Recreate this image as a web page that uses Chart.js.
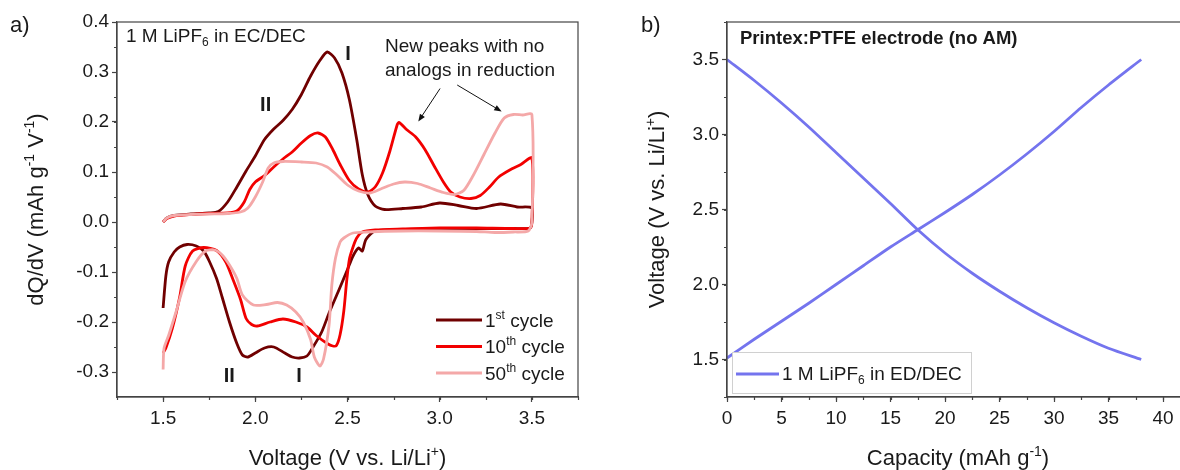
<!DOCTYPE html>
<html>
<head>
<meta charset="utf-8">
<script src="https://cdn.jsdelivr.net/npm/chart.js@4.4.1/dist/chart.umd.min.js"></script>
<style>
  html, body { margin: 0; padding: 0; background: #fff; width: 1180px; height: 470px; overflow: hidden; }
  #ca { position: absolute; left: 0; top: 0; }
  #cb { position: absolute; left: 600px; top: 0; }
</style>
</head>
<body>
<canvas id="ca" width="600" height="470"></canvas>
<canvas id="cb" width="640" height="470"></canvas>
<script>
const FONT = '"Liberation Sans", Arial, sans-serif';

// ---- panel a: dQ/dV, oxidation sweep (1.5 -> 3.5 V) then reduction sweep (3.5 -> 1.5 V)
const c1OxV  = [1.50, 1.52, 1.56, 1.65, 1.75, 1.80, 1.85, 1.90, 1.95, 2.00, 2.05, 2.10, 2.15, 2.20, 2.25, 2.30, 2.35, 2.39, 2.43, 2.47, 2.51, 2.55, 2.58, 2.61, 2.65, 2.70, 2.80, 2.90, 3.00, 3.10, 3.20, 3.33, 3.42, 3.50, 3.50];
const c1OxQ  = [0.000, 0.008, 0.013, 0.016, 0.018, 0.021, 0.040, 0.070, 0.102, 0.132, 0.165, 0.186, 0.203, 0.225, 0.255, 0.292, 0.323, 0.340, 0.328, 0.298, 0.245, 0.165, 0.095, 0.055, 0.032, 0.025, 0.027, 0.030, 0.038, 0.033, 0.027, 0.036, 0.030, 0.028, 0.000];
const c1RedV = [3.49, 3.40, 3.20, 3.00, 2.80, 2.65, 2.60, 2.58, 2.56, 2.53, 2.50, 2.45, 2.40, 2.36, 2.31, 2.28, 2.24, 2.20, 2.16, 2.10, 2.05, 2.00, 1.96, 1.93, 1.90, 1.86, 1.82, 1.79, 1.75, 1.72, 1.68, 1.63, 1.59, 1.56, 1.53, 1.515, 1.50];
const c1RedQ = [-0.012, -0.013, -0.013, -0.014, -0.015, -0.018, -0.035, -0.058, -0.052, -0.068, -0.095, -0.139, -0.182, -0.220, -0.252, -0.268, -0.272, -0.270, -0.262, -0.250, -0.252, -0.262, -0.270, -0.266, -0.243, -0.200, -0.150, -0.113, -0.078, -0.058, -0.048, -0.045, -0.050, -0.060, -0.080, -0.108, -0.172];

const c10OxV  = [1.50, 1.52, 1.56, 1.65, 1.75, 1.85, 1.90, 1.94, 1.97, 2.00, 2.05, 2.10, 2.15, 2.20, 2.25, 2.30, 2.34, 2.38, 2.42, 2.46, 2.51, 2.56, 2.61, 2.65, 2.69, 2.73, 2.77, 2.78, 2.82, 2.87, 2.92, 2.97, 3.02, 3.06, 3.11, 3.17, 3.22, 3.27, 3.32, 3.38, 3.44, 3.50, 3.50];
const c10OxQ  = [0.000, 0.007, 0.012, 0.015, 0.017, 0.018, 0.022, 0.040, 0.065, 0.080, 0.093, 0.110, 0.126, 0.140, 0.158, 0.173, 0.178, 0.170, 0.145, 0.115, 0.083, 0.066, 0.060, 0.070, 0.098, 0.142, 0.195, 0.199, 0.185, 0.170, 0.145, 0.112, 0.080, 0.060, 0.050, 0.047, 0.053, 0.070, 0.090, 0.104, 0.115, 0.128, 0.000];
const c10RedV = [3.49, 3.40, 3.20, 3.00, 2.80, 2.65, 2.58, 2.55, 2.53, 2.51, 2.495, 2.48, 2.46, 2.44, 2.42, 2.39, 2.33, 2.28, 2.22, 2.15, 2.08, 2.01, 1.98, 1.95, 1.92, 1.88, 1.84, 1.79, 1.72, 1.66, 1.62, 1.59, 1.55, 1.515, 1.50];
const c10RedQ = [-0.012, -0.013, -0.012, -0.012, -0.014, -0.016, -0.020, -0.032, -0.050, -0.075, -0.120, -0.178, -0.225, -0.247, -0.248, -0.243, -0.227, -0.210, -0.200, -0.194, -0.200, -0.208, -0.205, -0.193, -0.155, -0.116, -0.080, -0.057, -0.051, -0.058, -0.088, -0.150, -0.213, -0.252, -0.262];

const c50OxV  = [1.50, 1.52, 1.56, 1.65, 1.75, 1.85, 1.92, 1.96, 2.00, 2.04, 2.07, 2.10, 2.15, 2.25, 2.33, 2.39, 2.44, 2.50, 2.56, 2.62, 2.68, 2.75, 2.81, 2.88, 2.95, 3.02, 3.08, 3.13, 3.18, 3.24, 3.30, 3.35, 3.40, 3.45, 3.50, 3.50];
const c50OxQ  = [0.000, 0.008, 0.013, 0.015, 0.016, 0.017, 0.020, 0.028, 0.050, 0.080, 0.108, 0.118, 0.121, 0.120, 0.118, 0.110, 0.095, 0.074, 0.062, 0.058, 0.066, 0.076, 0.080, 0.077, 0.068, 0.059, 0.055, 0.063, 0.092, 0.135, 0.178, 0.208, 0.215, 0.214, 0.215, 0.000];
const c50RedV = [3.48, 3.40, 3.30, 3.20, 3.00, 2.80, 2.60, 2.53, 2.48, 2.46, 2.435, 2.415, 2.40, 2.37, 2.35, 2.32, 2.30, 2.26, 2.22, 2.17, 2.12, 2.06, 1.99, 1.93, 1.90, 1.86, 1.82, 1.78, 1.73, 1.68, 1.62, 1.57, 1.53, 1.505, 1.50];
const c50RedQ = [-0.018, -0.020, -0.021, -0.019, -0.018, -0.018, -0.020, -0.022, -0.032, -0.040, -0.072, -0.126, -0.206, -0.274, -0.288, -0.270, -0.235, -0.200, -0.180, -0.166, -0.161, -0.165, -0.166, -0.146, -0.113, -0.086, -0.066, -0.056, -0.058, -0.079, -0.119, -0.180, -0.227, -0.253, -0.295];

// ---- panel b: galvanostatic profile
const capX       = [0, 2.5, 5, 7.5, 10, 12.5, 15, 17.5, 20, 22.5, 25, 27.5, 30, 32.5, 35, 38];
const dischargeV = [3.50, 3.36, 3.21, 3.05, 2.88, 2.71, 2.54, 2.365, 2.21, 2.075, 1.955, 1.845, 1.745, 1.655, 1.575, 1.50];
const chargeV    = [1.51, 1.635, 1.755, 1.875, 2.00, 2.125, 2.25, 2.365, 2.48, 2.60, 2.73, 2.87, 3.02, 3.18, 3.33, 3.50];

const aXTicks = [1.5, 2.0, 2.5, 3.0, 3.5];
const aYTicks = [-0.3, -0.2, -0.1, 0.0, 0.1, 0.2, 0.3, 0.4];
const bXTicks = [0, 5, 10, 15, 20, 25, 30, 35, 40];
const bYTicks = [1.5, 2.0, 2.5, 3.0, 3.5];

const C1 = '#700000', C10 = '#f20000', C50 = '#f4a8a8', BLUE = '#7474ee';
const AXIS = '#444';

function pts(xs, ys) { return xs.map((x, i) => ({x: x, y: ys[i]})); }

function rich(ctx, parts, x, y, o) {
  const size = o.size || 17, weight = o.weight || 'normal';
  const small = Math.round(size * 0.62);
  const segs = parts.map(p => {
    const text = typeof p === 'string' ? p : p[0];
    const kind = typeof p === 'string' ? '' : p[1];
    const s = kind ? small : size;
    ctx.font = weight + ' ' + s + 'px ' + FONT;
    return {text, kind, s, w: ctx.measureText(text).width};
  });
  const total = segs.reduce((a, b) => a + b.w, 0);
  ctx.save();
  ctx.translate(x, y);
  if (o.rot) ctx.rotate(o.rot);
  ctx.fillStyle = o.color || '#1a1a1a';
  ctx.textBaseline = 'alphabetic';
  ctx.textAlign = 'left';
  let cx = o.align === 'center' ? -total / 2 : (o.align === 'right' ? -total : 0);
  segs.forEach(sg => {
    ctx.font = weight + ' ' + sg.s + 'px ' + FONT;
    let dy = size * 0.36;
    if (sg.kind === 'sup') dy -= size * 0.42;
    if (sg.kind === 'sub') dy += size * 0.2;
    ctx.fillText(sg.text, cx, dy);
    cx += sg.w;
  });
  ctx.restore();
}

function arrow(ctx, x1, y1, x2, y2) {
  const a = Math.atan2(y2 - y1, x2 - x1), h = 8;
  ctx.save();
  ctx.strokeStyle = '#111';
  ctx.fillStyle = '#111';
  ctx.lineWidth = 1;
  ctx.beginPath();
  ctx.moveTo(x1, y1);
  ctx.lineTo(x2 - Math.cos(a) * h * 0.7, y2 - Math.sin(a) * h * 0.7);
  ctx.stroke();
  ctx.beginPath();
  ctx.moveTo(x2, y2);
  ctx.lineTo(x2 - h * Math.cos(a - 0.38), y2 - h * Math.sin(a - 0.38));
  ctx.lineTo(x2 - h * Math.cos(a + 0.38), y2 - h * Math.sin(a + 0.38));
  ctx.closePath();
  ctx.fill();
  ctx.restore();
}

// box around the plot + short minor ticks half way between the labelled ones
function frame(chart, xMinorStep, yMinorStep) {
  const {ctx, chartArea: ca, scales: {x, y}} = chart;
  ctx.save();
  ctx.strokeStyle = AXIS;
  ctx.lineWidth = 1.2;
  ctx.strokeRect(ca.left, ca.top, ca.right - ca.left, ca.bottom - ca.top);
  ctx.beginPath();
  for (let v = Math.ceil(x.min / xMinorStep) * xMinorStep; v <= x.max + 1e-9; v += xMinorStep) {
    const px = Math.round(x.getPixelForValue(v)) + 0.5;
    ctx.moveTo(px, ca.bottom);
    ctx.lineTo(px, ca.bottom + 3);
  }
  for (let v = Math.ceil(y.min / yMinorStep) * yMinorStep; v <= y.max + 1e-9; v += yMinorStep) {
    const py = Math.round(y.getPixelForValue(v)) + 0.5;
    ctx.moveTo(ca.left, py);
    ctx.lineTo(ca.left - 3, py);
  }
  ctx.stroke();
  ctx.restore();
}

function axis(pos, min, max, ticks, fmt, size) {
  return {
    type: 'linear', position: pos, min: min, max: max,
    afterBuildTicks: s => { s.ticks = ticks.map(v => ({value: v})); },
    afterFit: s => { if (pos === 'left') s.width = size; else s.height = size; },
    ticks: {
      color: '#1a1a1a', font: {family: FONT, size: 19},
      padding: pos === 'left' ? 3 : 5, autoSkip: false, maxRotation: 0,
      callback: fmt
    },
    grid: {drawOnChartArea: false, drawTicks: true, tickLength: 5, tickColor: AXIS, tickWidth: 1.2},
    border: {display: true, color: AXIS, width: 1.2}
  };
}

const lineDefaults = {
  animation: false, responsive: false,
  elements: {point: {radius: 0, hoverRadius: 0}, line: {borderWidth: 2.8, tension: 0.25, fill: false}},
  plugins: {legend: {display: false}, tooltip: {enabled: false}}
};

// ---------------- panel a ----------------
const decorA = {
  id: 'decorA',
  afterDraw(chart) {
    const {ctx, chartArea: ca, scales: {x, y}} = chart;
    frame(chart, 0.25, 0.05);
    const X = v => x.getPixelForValue(v), Y = v => y.getPixelForValue(v);

    rich(ctx, ['a)'], 10, 24, {size: 22});
    rich(ctx, ['dQ/dV (mAh g', ['-1', 'sup'], ' V', ['-1', 'sup'], ')'], 35, (ca.top + ca.bottom) / 2, {size: 22, rot: -Math.PI / 2, align: 'center'});
    rich(ctx, ['Voltage (V vs. Li/Li', ['+', 'sup'], ')'], (ca.left + ca.right) / 2, 457, {size: 22, align: 'center'});

    rich(ctx, ['1 M LiPF', ['6', 'sub'], ' in EC/DEC'], ca.left + 9, ca.top + 13.5, {size: 19});

    // peak labels
    rich(ctx, ['I'], X(2.503), Y(0.338), {size: 20, weight: 'bold', align: 'center'});
    rich(ctx, ['II'], X(2.056), Y(0.237), {size: 20, weight: 'bold', align: 'center'});
    rich(ctx, ['II'], X(1.859), Y(-0.306), {size: 20, weight: 'bold', align: 'center'});
    rich(ctx, ['I'], X(2.237), Y(-0.306), {size: 20, weight: 'bold', align: 'center'});

    rich(ctx, ['New peaks with no'], X(2.703), Y(0.354), {size: 19});
    rich(ctx, ['analogs in reduction'], X(2.703), Y(0.305), {size: 19});
    arrow(ctx, X(3.002), Y(0.267), X(2.884), Y(0.201));
    arrow(ctx, X(3.095), Y(0.274), X(3.336), Y(0.221));

    // legend
    const rows = [
      [C1, ['1', ['st', 'sup'], ' cycle']],
      [C10, ['10', ['th', 'sup'], ' cycle']],
      [C50, ['50', ['th', 'sup'], ' cycle']]
    ];
    rows.forEach((r, i) => {
      const ly = 320 + i * 26.5;
      ctx.save();
      ctx.strokeStyle = r[0];
      ctx.lineWidth = 3;
      ctx.beginPath();
      ctx.moveTo(436, ly);
      ctx.lineTo(482, ly);
      ctx.stroke();
      ctx.restore();
      rich(ctx, r[1], 485, ly, {size: 19});
    });
  }
};

new Chart(document.getElementById('ca'), {
  type: 'scatter',
  data: {
    datasets: [
      {label: '1st cycle', data: pts(c1OxV.concat(c1RedV), c1OxQ.concat(c1RedQ)), borderColor: C1, showLine: true, order: 3},
      {label: '10th cycle', data: pts(c10OxV.concat(c10RedV), c10OxQ.concat(c10RedQ)), borderColor: C10, showLine: true, order: 2},
      {label: '50th cycle', data: pts(c50OxV.concat(c50RedV), c50OxQ.concat(c50RedQ)), borderColor: C50, showLine: true, order: 1}
    ]
  },
  options: Object.assign({}, lineDefaults, {
    layout: {padding: {left: 0, top: 22, right: 22, bottom: 0}},
    scales: {
      x: axis('bottom', 1.25, 3.75, aXTicks, v => v.toFixed(1), 73),
      y: axis('left', -0.35, 0.4, aYTicks, v => v.toFixed(1), 117)
    }
  }),
  plugins: [decorA]
});

// ---------------- panel b ----------------
const decorB = {
  id: 'decorB',
  afterDraw(chart) {
    const {ctx, chartArea: ca} = chart;
    frame(chart, 2.5, 0.25);

    rich(ctx, ['b)'], 41, 24, {size: 22});
    rich(ctx, ['Voltage (V vs. Li/Li', ['+', 'sup'], ')'], 56, (ca.top + ca.bottom) / 2, {size: 22, rot: -Math.PI / 2, align: 'center'});
    rich(ctx, ['Capacity (mAh g', ['-1', 'sup'], ')'], 358, 457, {size: 22, align: 'center'});
    rich(ctx, ['Printex:PTFE electrode (no AM)'], ca.left + 13, ca.top + 15, {size: 18.5, weight: 'bold'});

    // legend box
    ctx.save();
    ctx.fillStyle = '#fff';
    ctx.strokeStyle = '#d0d0d0';
    ctx.lineWidth = 1;
    ctx.fillRect(ca.left + 5, ca.bottom - 45, 239, 41);
    ctx.strokeRect(ca.left + 5.5, ca.bottom - 44.5, 239, 41);
    ctx.strokeStyle = BLUE;
    ctx.lineWidth = 3;
    ctx.beginPath();
    ctx.moveTo(ca.left + 9, ca.bottom - 23);
    ctx.lineTo(ca.left + 52, ca.bottom - 23);
    ctx.stroke();
    ctx.restore();
    rich(ctx, ['1 M LiPF', ['6', 'sub'], ' in ED/DEC'], ca.left + 55, ca.bottom - 24, {size: 19});
  }
};

new Chart(document.getElementById('cb'), {
  type: 'scatter',
  data: {
    datasets: [
      {label: '1 M LiPF6 in ED/DEC', data: pts(capX, dischargeV), borderColor: BLUE, showLine: true},
      {label: 'charge', data: pts(capX, chargeV), borderColor: BLUE, showLine: true}
    ]
  },
  options: Object.assign({}, lineDefaults, {
    layout: {padding: {left: 0, top: 22, right: 22.5, bottom: 0}},
    scales: {
      x: axis('bottom', 0, 45, bXTicks, v => String(v), 73),
      y: axis('left', 1.25, 3.75, bYTicks, v => v.toFixed(1), 127)
    }
  }),
  plugins: [decorB]
});
</script>
</body>
</html>
